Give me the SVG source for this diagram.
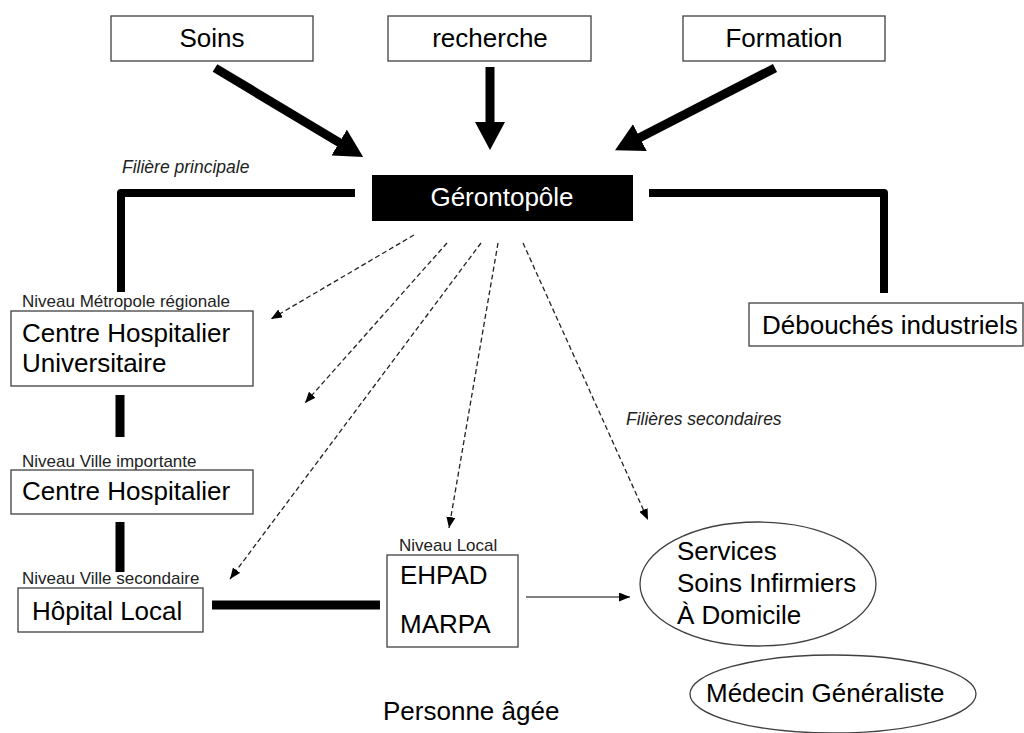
<svg xmlns="http://www.w3.org/2000/svg" width="1024" height="733" viewBox="0 0 1024 733">
<style>
  .box { fill: #fff; stroke: #404040; stroke-width: 1.3; }
  .t { font-family: "Liberation Sans", Arial, sans-serif; font-size: 26px; fill: #000; }
  .tc { text-anchor: middle; }
  .s { font-family: "Liberation Sans", Arial, sans-serif; font-size: 17px; fill: #222; }
  .it { font-family: "Liberation Sans", Arial, sans-serif; font-size: 17.5px; font-style: italic; fill: #222; }
  .thick { fill: none; stroke: #000; stroke-width: 9; }
  .main { fill: none; stroke: #000; stroke-width: 8; stroke-linejoin: round; }
  .bar { fill: none; stroke: #000; stroke-width: 9; }
  .dash { fill: none; stroke: #222; stroke-width: 1.3; stroke-dasharray: 5 3; }
  .thin { fill: none; stroke: #000; stroke-width: 1.2; }
</style>
<defs>
  <marker id="bighead" markerUnits="userSpaceOnUse" markerWidth="28" markerHeight="30" viewBox="0 0 28 30" refX="1" refY="15" orient="auto">
    <path d="M0,0 L28,15 L0,30 z" fill="#000"/>
  </marker>
  <marker id="smallhead" markerUnits="userSpaceOnUse" markerWidth="11" markerHeight="9" viewBox="0 0 11 9" refX="11" refY="4.5" orient="auto">
    <path d="M0,0 L11,4.5 L0,9 z" fill="#000"/>
  </marker>
</defs>

<g id="connectors">
  <line class="thick" x1="215" y1="68" x2="340" y2="143" marker-end="url(#bighead)"/>
  <line class="thick" x1="490" y1="67" x2="490" y2="123" marker-end="url(#bighead)"/>
  <line class="thick" x1="775" y1="68" x2="639" y2="138" marker-end="url(#bighead)"/>
  <path class="main" d="M355,193 L121,193 L121,292"/>
  <path class="main" d="M649,193 L884,193 L884,293"/>
  <line class="bar" x1="120" y1="395" x2="120" y2="437"/>
  <line class="bar" x1="120" y1="522" x2="120" y2="572"/>
  <line class="bar" x1="212" y1="605" x2="380" y2="605"/>
  <line class="dash" x1="414" y1="235" x2="271" y2="319" marker-end="url(#smallhead)"/>
  <line class="dash" x1="447" y1="243" x2="305" y2="403" marker-end="url(#smallhead)"/>
  <line class="dash" x1="481" y1="243" x2="230" y2="579" marker-end="url(#smallhead)"/>
  <line class="dash" x1="498" y1="243" x2="449" y2="528" marker-end="url(#smallhead)"/>
  <line class="dash" x1="523" y1="243" x2="648" y2="520" marker-end="url(#smallhead)"/>
  <line class="thin" x1="526" y1="597" x2="630" y2="597" marker-end="url(#smallhead)"/>
</g>

<g id="soins">
  <rect class="box" x="111" y="16" width="202" height="45"/>
  <text class="t tc" x="212" y="47">Soins</text>
</g>
<g id="recherche">
  <rect class="box" x="388" y="16" width="203" height="45"/>
  <text class="t tc" x="490" y="47">recherche</text>
</g>
<g id="formation">
  <rect class="box" x="683" y="16" width="202" height="45"/>
  <text class="t tc" x="784" y="47">Formation</text>
</g>
<g id="gerontopole">
  <rect x="372" y="175" width="261" height="46" fill="#000"/>
  <text class="t tc" x="502" y="206" style="fill:#fff">Gérontopôle</text>
</g>
<g id="label-filiere-principale">
  <text class="it" x="122" y="173">Filière principale</text>
</g>
<g id="debouches">
  <rect class="box" x="749" y="303" width="274" height="43"/>
  <text class="t" x="762" y="334">Débouchés industriels</text>
</g>
<g id="chu">
  <text class="s" x="22" y="307">Niveau Métropole régionale</text>
  <rect class="box" x="11" y="311" width="242" height="75"/>
  <text class="t" x="22" y="342">Centre Hospitalier</text>
  <text class="t" x="22" y="372">Universitaire</text>
</g>
<g id="ch">
  <text class="s" x="22" y="467">Niveau Ville importante</text>
  <rect class="box" x="11" y="470" width="242" height="44"/>
  <text class="t" x="22" y="500">Centre Hospitalier</text>
</g>
<g id="hopital-local">
  <text class="s" x="22" y="584">Niveau Ville secondaire</text>
  <rect class="box" x="18" y="588" width="185" height="44"/>
  <text class="t" x="32" y="620">Hôpital Local</text>
</g>
<g id="ehpad">
  <text class="s" x="399" y="551">Niveau Local</text>
  <rect class="box" x="387" y="555" width="131" height="92"/>
  <text class="t" x="400" y="584">EHPAD</text>
  <text class="t" x="400" y="633">MARPA</text>
</g>
<g id="label-filieres-secondaires">
  <text class="it" x="626" y="425">Filières secondaires</text>
</g>
<g id="ssiad">
  <ellipse class="box" cx="758" cy="584" rx="118" ry="62"/>
  <text class="t" x="677" y="560">Services</text>
  <text class="t" x="677" y="592">Soins Infirmiers</text>
  <text class="t" x="677" y="624">À Domicile</text>
</g>
<g id="medecin">
  <ellipse class="box" cx="833" cy="694" rx="143" ry="39"/>
  <text class="t" x="706" y="702">Médecin Généraliste</text>
</g>
<g id="personne">
  <text class="t" x="383" y="720">Personne âgée</text>
</g>
</svg>
